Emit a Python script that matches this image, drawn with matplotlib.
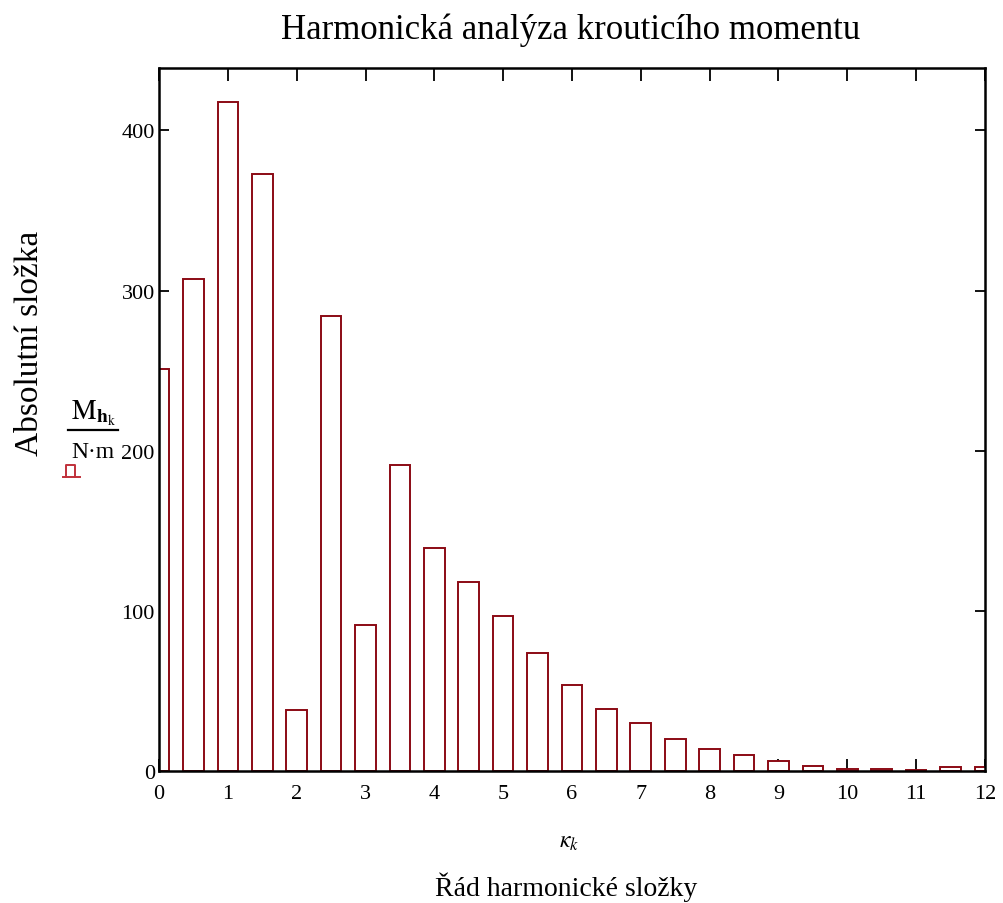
import numpy as np
import matplotlib.pyplot as plt
from matplotlib.lines import Line2D

plt.rcParams['font.family'] = ['Liberation Serif', 'DejaVu Serif']
plt.rcParams['mathtext.fontset'] = 'stix'

# harmonic order and absolute amplitude (N*m)
order = [0, 0.5, 1, 1.5, 2, 2.5, 3, 3.5, 4, 4.5, 5, 5.5, 6,
         6.5, 7, 7.5, 8, 8.5, 9, 9.5, 10, 10.5, 11, 11.5, 12]
amp = [251, 307, 418, 373, 38, 284, 91, 191, 139, 118, 97, 74, 54,
       39, 30, 20, 14, 10, 6.4, 3.3, 1.0, 1.0, 0.6, 2.5, 2.5]
xticks = list(range(0, 13))
yticks = [0, 100, 200, 300, 400]

fig = plt.figure(figsize=(10.04, 9.04), dpi=100)
ax = fig.add_axes([0.1584, 0.146, 0.8226, 0.7777])

ax.bar(order, amp, width=0.3, facecolor='white', edgecolor='#8b0a14',
       linewidth=1.4, zorder=2)

ax.set_xlim(0, 12)
ax.set_ylim(0, 439)
ax.set_xticks(xticks)
ax.set_yticks(yticks)
ax.tick_params(direction='in', length=9, width=1.3, labelsize=16,
               top=True, right=True, colors='black')
ax.tick_params(axis='x', pad=9)
ax.tick_params(axis='y', length=7, pad=3)
for s in ax.spines.values():
    s.set_linewidth(1.8)
    s.set_zorder(3)

fig.text(0.568, 0.967, 'Harmonická analýza krouticího momentu',
         ha='center', va='center', fontsize=25)
fig.text(0.564, 0.019, 'Řád harmonické složky', ha='center', va='center',
         fontsize=20)
fig.text(0.567, 0.068, r'$\kappa_{k}$', ha='center', va='center', fontsize=17)
fig.text(0.03, 0.62, 'Absolutní složka', rotation=90, ha='center',
         va='center', fontsize=24)

# unit fraction next to the y axis
fig.text(0.093, 0.543, r'$\mathrm{M}_{\mathbf{h}_{\mathrm{k}}}$', ha='center',
         va='center', fontsize=20)
fig.add_artist(Line2D([0.068, 0.118], [0.523, 0.523], color='black', lw=1.6))
fig.text(0.093, 0.499, 'N·m', ha='center', va='center', fontsize=17)
# small legend marker
fig.add_artist(Line2D([0.063, 0.08], [0.471, 0.471], color='#c0303a', lw=1.4))
fig.add_artist(Line2D([0.066, 0.066, 0.075, 0.075], [0.471, 0.484, 0.484, 0.471],
                      color='#c0303a', lw=1.4))

fig.savefig('out.png', dpi=100)
